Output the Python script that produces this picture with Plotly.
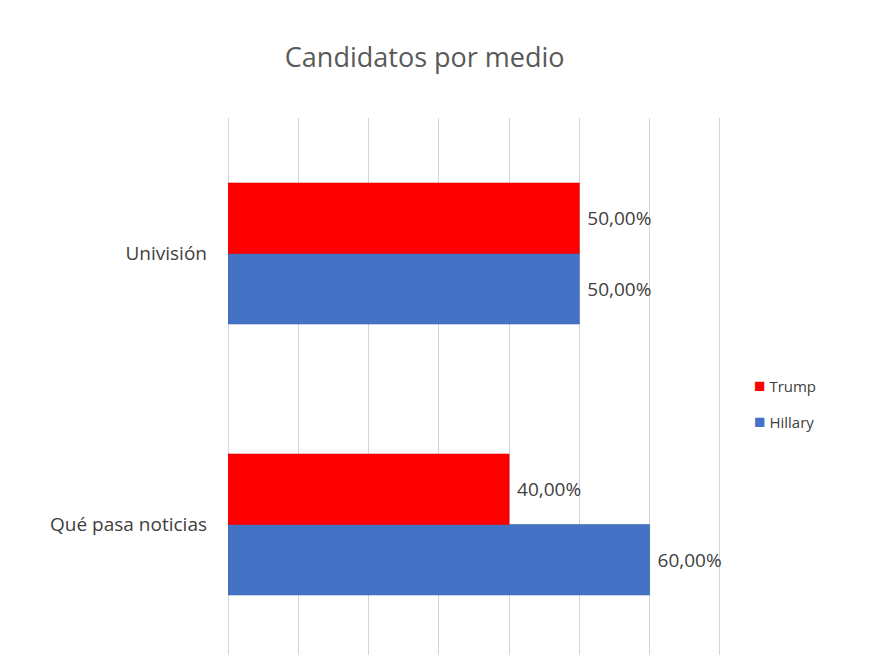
import plotly.graph_objects as go

categories = ["Qué pasa noticias", "Univisión"]
trump = [0.40, 0.50]
hillary = [0.60, 0.50]
series_names = ["Trump", "Hillary"]
series_colors = ["#FF0000", "#4472C4"]

def fmt(v):
    return " " + f"{v*100:.2f}".replace(".", ",") + "%"

FONT = "Open Sans"

fig = go.Figure()
fig.add_trace(go.Bar(
    y=categories, x=hillary, name=series_names[1], orientation="h",
    marker=dict(color=series_colors[1], line=dict(color="#3a64ad", width=0.6)),
    text=[fmt(v) for v in hillary], textposition="outside",
    textfont=dict(size=19, color="#404040", family=FONT),
    cliponaxis=False, showlegend=False,
))
fig.add_trace(go.Bar(
    y=categories, x=trump, name=series_names[0], orientation="h",
    marker=dict(color=series_colors[0], line=dict(color="#d90000", width=0.6)),
    text=[fmt(v) for v in trump], textposition="outside",
    textfont=dict(size=19, color="#404040", family=FONT),
    cliponaxis=False, showlegend=False,
))

# legend drawn as annotations
leg_y = [385, 421]
for name, col, yy in zip(series_names, series_colors, leg_y):
    fig.add_annotation(
        xref="paper", yref="paper", x=(744 - 220) / 494, y=1 + (110 - (yy - 8)) / 542,
        xanchor="left", yanchor="middle", showarrow=False,
        text=f"<span style='color:{col};font-size:19px'>■</span> {name}",
        font=dict(size=15, color="#404040", family=FONT),
    )

fig.update_layout(
    width=870, height=655,
    margin=dict(l=220, r=156, t=110, b=3),
    paper_bgcolor="white", plot_bgcolor="white",
    barmode="group", bargap=0.48, bargroupgap=0,
    title=dict(text="Candidatos por medio", x=0.479, xanchor="center", y=0.925, yanchor="middle",
               font=dict(size=27, color="#595959", family=FONT)),
    font=dict(family=FONT, color="#404040"),
    showlegend=False,
    xaxis=dict(range=[0, 0.703], dtick=0.1, tick0=0, showgrid=True, gridcolor="#d4d4d4",
               gridwidth=1, zeroline=True, zerolinecolor="#d4d4d4", zerolinewidth=1,
               showticklabels=False, showline=False, ticks=""),
    yaxis=dict(range=[-0.5, 1.5], showgrid=False, zeroline=False, showline=False,
               ticks="", ticklabelstandoff=20, tickfont=dict(size=19, color="#404040", family=FONT)),
)

fig.write_html("out.html")
